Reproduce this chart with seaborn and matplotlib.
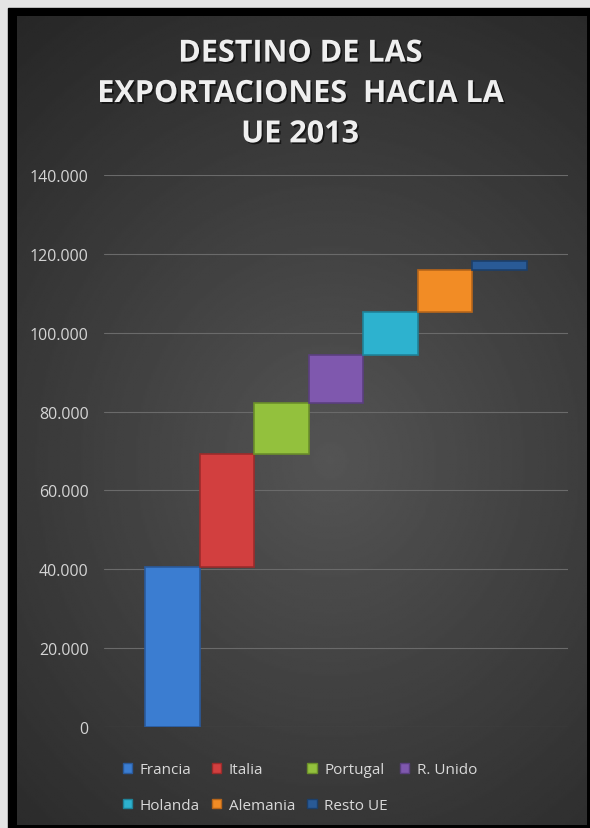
import numpy as np
import matplotlib.pyplot as plt
import matplotlib.patheffects as pe
import seaborn as sns
from matplotlib.patches import Patch, Rectangle

# datos
paises = ['Francia', 'Italia', 'Portugal', 'R. Unido', 'Holanda', 'Alemania', 'Resto UE']
exportaciones = [40600, 28600, 12900, 12200, 10900, 10700, 2400]
colores = ['#3b7dd1', '#d23f3f', '#93c13d', '#7f58ae', '#2db2cf', '#f28c25', '#295a96']
bordes = ['#2a5a9c', '#9c2b2b', '#6b8f2a', '#5b3f80', '#1f8399', '#b8661a', '#1c3f6a']
y_ticks = [0, 20000, 40000, 60000, 80000, 100000, 120000, 140000]
y_labels = ['0', '20.000', '40.000', '60.000', '80.000', '100.000', '120.000', '140.000']
titulo = 'DESTINO DE LAS\nEXPORTACIONES  HACIA LA\nUE 2013'

sns.set_theme(style='dark')
plt.rcParams['font.family'] = ['Open Sans', 'DejaVu Sans']

W, H = 590, 829
fig = plt.figure(figsize=(W / 100, H / 100), dpi=100, facecolor='#e4e4e4')

# marco negro alrededor del grafico
fig.add_artist(Rectangle((8 / W, 0), 1, (H - 9) / H, transform=fig.transFigure,
                         color='black', zorder=-2))

# fondo con degradado
bg = fig.add_axes([17 / W, 3 / H, 570 / W, 809 / H], zorder=-1)
yy, xx = np.mgrid[0:1:400j, 0:1:300j]
r = np.sqrt(((xx - 0.55) / 0.9) ** 2 + ((yy - 0.55) / 0.7) ** 2)
grad = np.clip(0.33 - 0.18 * r, 0.15, 0.4)
bg.imshow(grad, cmap='gray', vmin=0, vmax=1, aspect='auto', interpolation='bilinear')
bg.axis('off')

ax = fig.add_axes([104 / W, 101 / H, 464 / W, 552 / H])
ax.patch.set_alpha(0)

# cascada: cada barra empieza donde acaba la anterior
bases = np.concatenate([[0], np.cumsum(exportaciones)[:-1]])
sns.barplot(x=paises, y=exportaciones, hue=paises, palette=colores, width=1,
            saturation=1, legend=False, ax=ax, linewidth=1.2, zorder=3)
for bar, b, v, e in zip(ax.patches, bases, exportaciones, bordes):
    bar.set_y(b)
    bar.set_height(v)
    bar.set_edgecolor(e)

ax.set_xlim(-1.25, 7.25)
ax.set_ylim(0, 140000)
ax.set_xticks([])
ax.set_yticks(y_ticks, y_labels)
ax.tick_params(axis='y', colors='#d4d4d4', labelsize=11.5, length=0, pad=11)
ax.grid(axis='y', color='#6a6a6a', linewidth=0.8)
ax.set_axisbelow(True)
ax.set_xlabel('')
ax.set_ylabel('')
sns.despine(ax=ax, left=True, bottom=True)

fig.text(300 / W, 734 / H, titulo, ha='center', va='center', fontsize=22,
         fontweight='bold', color='#efefef', linespacing=1.45,
         path_effects=[pe.SimplePatchShadow(offset=(1.2, -1.2), shadow_rgbFace='black', alpha=0.6),
                       pe.Normal()])

orden = [0, 4, 1, 5, 2, 6, 3]
handles = [Patch(facecolor=colores[i], edgecolor=bordes[i]) for i in orden]
labels = [paises[i] for i in orden]
fig.legend(handles, labels, loc='center', bbox_to_anchor=(300 / W, 40.5 / H), ncol=4,
           frameon=False, fontsize=11, labelcolor='#d9d9d9', handlelength=0.6,
           handleheight=0.6, handletextpad=0.5, columnspacing=0.8, labelspacing=1.35,
           borderpad=0)

fig.savefig('out.png', dpi=100, facecolor=fig.get_facecolor())
